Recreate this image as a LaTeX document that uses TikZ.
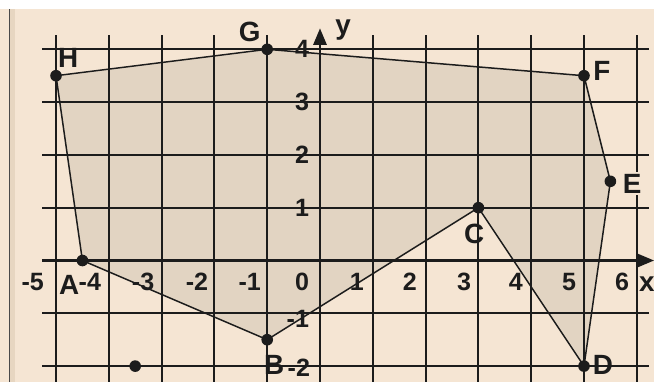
\documentclass[tikz,border=0pt]{standalone}
\usepackage{fontspec}
\setmainfont{Liberation Sans}
\usetikzlibrary{arrows.meta, calc}
\definecolor{cBg}{HTML}{F5E5D3}
\definecolor{cFill}{HTML}{E2D4C2}
\definecolor{cStrip}{HTML}{E7D6C1}
\definecolor{cInk}{HTML}{1C1C1C}

\tikzset{
  gridline/.style={cInk, line width=1.1pt},
  axisline/.style={cInk, line width=1.6pt, -{Triangle[length=9pt, width=7pt]}},
  edge/.style={cInk, line width=0.8pt},
  vertex/.style={cInk},
  ptlabel/.style={cInk, font=\fontsize{15}{15}\selectfont\bfseries, inner sep=0pt},
  numlabel/.style={cInk, font=\fontsize{13.5}{13.5}\selectfont\bfseries, inner sep=0pt},
}

\begin{document}
\begin{tikzpicture}
  % frame
  \useasboundingbox (-6.061,-2.296) rectangle (6.326,4.934);
  \fill[white] (-6.061,-2.296) rectangle (6.326,4.934);
  \fill[cBg] (-6.061,-2.296) rectangle (6.326,4.763);
  \fill[cStrip] (-5.87,-2.296) rectangle (-5.78,4.763);
  \draw[cInk!80, line width=0.9pt] (-5.88,-2.296) -- (-5.88,4.763);

  % vertices
  \coordinate (H) at (-5,3.5);
  \coordinate (G) at (-1,4);
  \coordinate (F) at (5,3.5);
  \coordinate (E) at (5.5,1.5);
  \coordinate (D) at (5,-2);
  \coordinate (C) at (3,1);
  \coordinate (B) at (-1,-1.5);
  \coordinate (A) at (-4.5,0);
  \coordinate (P) at (-3.5,-2);

  % shaded region
  \fill[cFill] (H) -- (G) -- (F) -- (E) -- (D) -- (C) -- (B) -- (A) -- cycle;

  % grid
  \foreach \y in {-2,-1,1,2,3,4}
    \draw[gridline] (-5.265,\y) -- (6.23,\y);
  \foreach \x in {-5,...,-1,1,2,...,6}
    \draw[gridline] (\x,4.27) -- (\x,-2.296);

  % axes
  \coordinate (xend) at (6.33,0);
  \coordinate (yend) at (0,4.40);
  \draw[axisline] (-5.265,0) -- (xend);
  \draw[axisline] (0,-2.296) -- (yend);

  % polygon
  \draw[edge] (H) -- (G) -- (F) -- (E) -- (D) -- (C) -- (B) -- (A) -- cycle;
  \foreach \p in {H,G,F,E,D,C,B,A,P}
    \fill[vertex] (\p) circle (0.11);

  % axis numbers
  \foreach \x/\px in {-5/-5.44,-4/-4.36,-3/-3.35,-2/-2.33,-1/-1.33,0/-0.34,1/0.70,2/1.70,3/2.73,4/3.71,5/4.72,6/5.72}
    \node[numlabel] (nx\x) at (\px,-0.40) {\x};
  \foreach \y in {1,2,3,4}
    \node[numlabel] (ny\y) at (-0.34,\y) {\y};
  \node[numlabel] (nym1) at (-0.42,-1.1) {-1};
  \node[numlabel] (nym2) at (-0.40,-2.03) {-2};
  \node[ptlabel] (xlab) at (6.19,-0.44) {x};
  \node[ptlabel] (ylab) at (0.44,4.36) {y};

  % point names
  \node[ptlabel] (lH) at (-4.77,3.83) {H};
  \node[ptlabel] (lG) at (-1.33,4.33) {G};
  \node[ptlabel] (lF) at (5.34,3.60) {F};
  \node[ptlabel, fill=cBg, inner sep=1pt] (lE) at (5.91,1.46) {E};
  \node[ptlabel] (lD) at (5.36,-1.97) {D};
  \node[ptlabel] (lC) at (2.92,0.51) {C};
  \node[ptlabel] (lB) at (-0.87,-1.97) {B};
  \node[ptlabel] (lA) at (-4.75,-0.47) {A};
\end{tikzpicture}
\end{document}
